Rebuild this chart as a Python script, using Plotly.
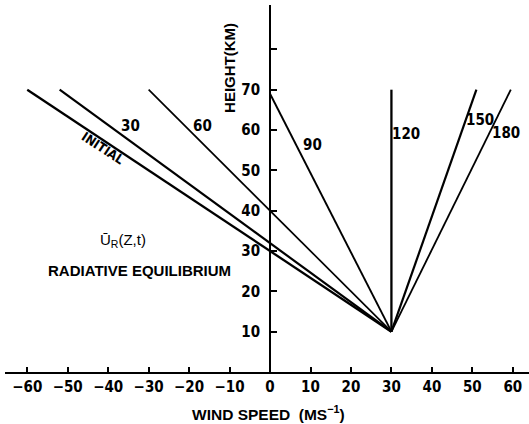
import plotly.graph_objects as go

# Data
curve_labels = ["INITIAL", "30", "60", "90", "120", "150", "180"]
base_wind = 30.0
base_height = 10.0
top_wind = [-60, -52, -30, 0, 30, 51, 59.5]
top_height = [70, 70, 70, 69, 70, 70, 70]
line_widths = [2.3, 2.2, 1.7, 1.9, 2.3, 2.2, 1.8]

x_ticks = [-60, -50, -40, -30, -20, -10, 0, 10, 20, 30, 40, 50, 60]
x_ticktext = ["\u221260", "\u221250", "\u221240", "\u221230", "\u221220", "\u221210",
              "0", "10", "20", "30", "40", "50", "60"]
y_ticks = [10, 20, 30, 40, 50, 60, 70]
y_ticktext = ["10", "20", "30", "40", "50", "60", "70"]
y_minor_ticks = [80]

# label positions (data coords)
label_x = [-41.2, -34.6, -16.8, 10.4, 33.6, 51.9, 58.3]
label_y = [55.4, 61.1, 61.1, 56.4, 58.9, 62.6, 59.3]
label_angle = [33, 0, 0, 0, 0, 0, 0]

XR = [-65.5, 64]
YR = [0, 91]

NARROW = "Liberation Sans Narrow, DejaVu Sans Condensed, Arial Narrow, sans-serif"
WIDE = "Liberation Sans, Arial, sans-serif"

fig = go.Figure()
for lab, tx, th, w in zip(curve_labels, top_wind, top_height, line_widths):
    fig.add_trace(go.Scatter(x=[tx, base_wind], y=[th, base_height], mode="lines",
                             line=dict(color="black", width=w), name=lab,
                             showlegend=False, hoverinfo="skip"))

for lab, lx, ly, ang in zip(curve_labels, label_x, label_y, label_angle):
    fig.add_annotation(x=lx, y=ly, text=lab, showarrow=False, textangle=ang,
                       font=dict(family=NARROW, size=15 if ang == 0 else 13,
                                 color="black", weight="bold"))

fig.add_annotation(x=-9.9, y=75.4, text="HEIGHT(KM)", showarrow=False, textangle=-90,
                   font=dict(family=WIDE, size=15, color="black", weight="bold"))
fig.add_annotation(x=-36.3, y=32.5, text="\u016a<sub>R</sub>(Z,t)", showarrow=False,
                   font=dict(family=WIDE, size=15, color="black"))
fig.add_annotation(x=-32.3, y=25.1, text="RADIATIVE EQUILIBRIUM", showarrow=False,
                   font=dict(family=WIDE, size=15, color="black", weight="bold"))
fig.add_annotation(x=-0.3, xref="x", y=-0.112, yref="paper", yanchor="middle",
                   text="WIND SPEED  (MS<sup>\u22121</sup>)", showarrow=False,
                   font=dict(family=WIDE, size=15.5, color="black", weight="bold"))

ypos = (0 - XR[0]) / (XR[1] - XR[0])

fig.update_layout(
    width=529, height=424,
    margin=dict(l=5, r=0, t=5, b=52),
    paper_bgcolor="white", plot_bgcolor="white",
    xaxis=dict(range=XR, showgrid=False, zeroline=False, showline=True,
               linecolor="black", linewidth=2, ticks="inside", ticklen=5,
               tickwidth=1.5, tickcolor="black", tickvals=x_ticks,
               ticktext=x_ticktext,
               tickfont=dict(family=NARROW, size=15, color="black", weight="bold"),
               anchor="y", fixedrange=True),
    yaxis=dict(range=YR, showgrid=False, zeroline=False, showline=True,
               linecolor="black", linewidth=2, ticks="inside", ticklen=6,
               tickwidth=1.5, tickcolor="black", tickvals=y_ticks,
               ticktext=y_ticktext, anchor="free", position=ypos,
               ticklabelstandoff=6,
               minor=dict(tickvals=y_minor_ticks, ticks="inside", ticklen=6,
                          tickwidth=1.5, tickcolor="black", showgrid=False),
               tickfont=dict(family=NARROW, size=15, color="black", weight="bold"),
               fixedrange=True),
)

fig.write_html("out.html")
